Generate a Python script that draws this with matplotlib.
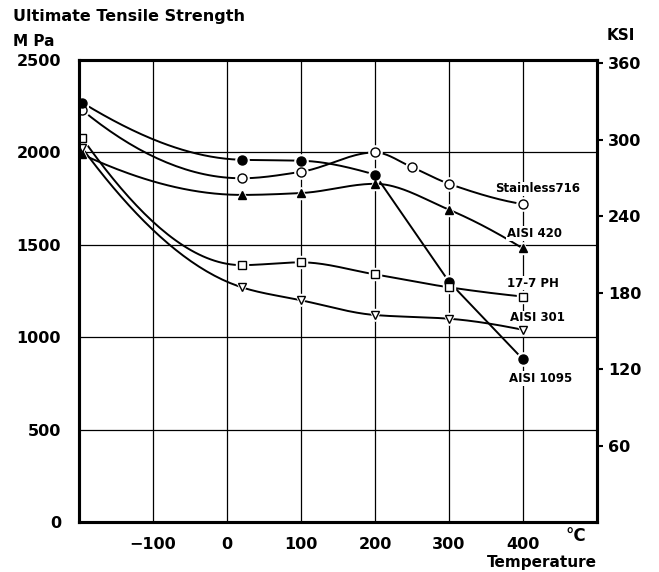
import numpy as np
import matplotlib
matplotlib.use('Agg')
import matplotlib.pyplot as plt

# ---- data ----
temps = [-196, 20, 100, 200, 300, 400]
temps_716 = [-196, 20, 100, 200, 250, 300, 400]
stainless_716 = [2230, 1860, 1895, 2000, 1920, 1830, 1720]
aisi_1095 = [2270, 1960, 1955, 1880, 1300, 880]
aisi_420 = [1990, 1770, 1780, 1830, 1690, 1480]
ph_17_7 = [2080, 1390, 1405, 1340, 1270, 1220]
aisi_301 = [2025, 1270, 1200, 1120, 1100, 1040]

x_ticks = [-100, 0, 100, 200, 300, 400]
mpa_ticks = [0, 500, 1000, 1500, 2000, 2500]
ksi_ticks = [60, 120, 180, 240, 300, 360]
MPA_PER_KSI = 6.895


def pchip_curve(x, y, num=200):
    """Smooth monotone cubic drawing path through the given points."""
    x = np.asarray(x, float)
    y = np.asarray(y, float)
    n = len(x)
    if n == 2:
        return x, y
    h = np.diff(x)
    d = np.diff(y) / h
    m = np.zeros(n)
    for k in range(1, n - 1):
        if d[k - 1] * d[k] <= 0:
            m[k] = 0.0
        else:
            w1 = 2 * h[k] + h[k - 1]
            w2 = h[k] + 2 * h[k - 1]
            m[k] = (w1 + w2) / (w1 / d[k - 1] + w2 / d[k])

    def end(h0, h1, d0, d1):
        mm = ((2 * h0 + h1) * d0 - h0 * d1) / (h0 + h1)
        if np.sign(mm) != np.sign(d0):
            mm = 0.0
        elif np.sign(d0) != np.sign(d1) and abs(mm) > abs(3 * d0):
            mm = 3 * d0
        return mm

    m[0] = end(h[0], h[1], d[0], d[1])
    m[-1] = end(h[-1], h[-2], d[-1], d[-2])
    xs_all, ys_all = [], []
    for k in range(n - 1):
        t = np.linspace(0, 1, num // (n - 1) + 2)
        h00 = 2 * t**3 - 3 * t**2 + 1
        h10 = t**3 - 2 * t**2 + t
        h01 = -2 * t**3 + 3 * t**2
        h11 = t**3 - t**2
        xs_all.append(x[k] + t * h[k])
        ys_all.append(h00 * y[k] + h10 * h[k] * m[k] + h01 * y[k + 1] + h11 * h[k] * m[k + 1])
    return np.concatenate(xs_all), np.concatenate(ys_all)


plt.rcParams['font.family'] = ['DejaVu Sans']

fig = plt.figure(figsize=(6.59, 5.72), dpi=100)
ax = fig.add_axes([79 / 659, 1 - 522 / 572, (597 - 79) / 659, (522 - 60) / 572])

ax.set_xlim(-200, 500)
ax.set_ylim(0, 2500)
ax.set_xticks(x_ticks)
ax.set_yticks(mpa_ticks)
ax.grid(True, color='black', linewidth=0.9)
ax.set_axisbelow(True)
ax.tick_params(axis='both', length=0, labelsize=11.5)
ax.tick_params(axis='x', pad=11)
ax.tick_params(axis='y', pad=13)
for lab in ax.get_xticklabels() + ax.get_yticklabels():
    lab.set_fontweight('bold')
for sp in ax.spines.values():
    sp.set_linewidth(2.2)

# (x, y, marker, face, size, index after which the line is drawn straight)
series = [
    (temps_716, stainless_716, 'o', 'white', 6.5, None),
    (temps, aisi_1095, 'o', 'black', 6.5, 3),
    (temps, aisi_420, '^', 'black', 6.0, None),
    (temps, ph_17_7, 's', 'white', 5.5, None),
    (temps, aisi_301, 'v', 'white', 6.0, None),
]
for xs, ys, mk, fc, ms, straight_from in series:
    if straight_from is None:
        cx, cy = pchip_curve(xs, ys)
    else:
        sx, sy = pchip_curve(xs[:straight_from + 1], ys[:straight_from + 1])
        cx = np.concatenate([sx, np.asarray(xs[straight_from + 1:], float)])
        cy = np.concatenate([sy, np.asarray(ys[straight_from + 1:], float)])
    ax.plot(cx, cy, color='black', linewidth=1.4, zorder=3)
    ax.plot(xs, ys, linestyle='none', marker=mk, markersize=ms + 3,
            markerfacecolor='white', markeredgecolor='white', zorder=4)
    ax.plot(xs, ys, linestyle='none', marker=mk, markersize=ms,
            markerfacecolor=fc, markeredgecolor='black', markeredgewidth=1.0, zorder=5)

labels = [
    ('Stainless716', 420, 1802),
    ('AISI 420', 415, 1560),
    ('17-7 PH', 413, 1293),
    ('AISI 301', 419, 1104),
    ('AISI 1095', 424, 775),
]
for txt, lx, ly in labels:
    ax.text(lx, ly, txt, ha='center', va='center', fontsize=8.5, fontweight='bold', zorder=6,
            bbox=dict(facecolor='white', edgecolor='none', pad=0.6))

ax2 = ax.twinx()
ax2.set_ylim(0, 2500 / MPA_PER_KSI)
ax2.set_yticks(ksi_ticks)
ax2.tick_params(axis='y', direction='out', length=4, width=1.5, pad=4, labelsize=11.5)
for lab in ax2.get_yticklabels():
    lab.set_fontweight('bold')
for sp in ax2.spines.values():
    sp.set_linewidth(2.2)

fig.text(13 / 659, 1 - 16 / 572, 'Ultimate Tensile Strength', fontsize=11.5,
         fontweight='bold', ha='left', va='center')
fig.text(13 / 659, 1 - 42 / 572, 'M Pa', fontsize=11, fontweight='bold',
         ha='left', va='center')
fig.text(621 / 659, 1 - 35 / 572, 'KSI', fontsize=11, fontweight='bold',
         ha='center', va='center')
fig.text(576 / 659, 1 - 536 / 572, '°C', fontsize=12, fontweight='bold',
         ha='center', va='center')
fig.text(597 / 659, 1 - 562 / 572, 'Temperature', fontsize=11, fontweight='bold',
         ha='right', va='center')

fig.savefig('out.png', dpi=100, facecolor='white')
